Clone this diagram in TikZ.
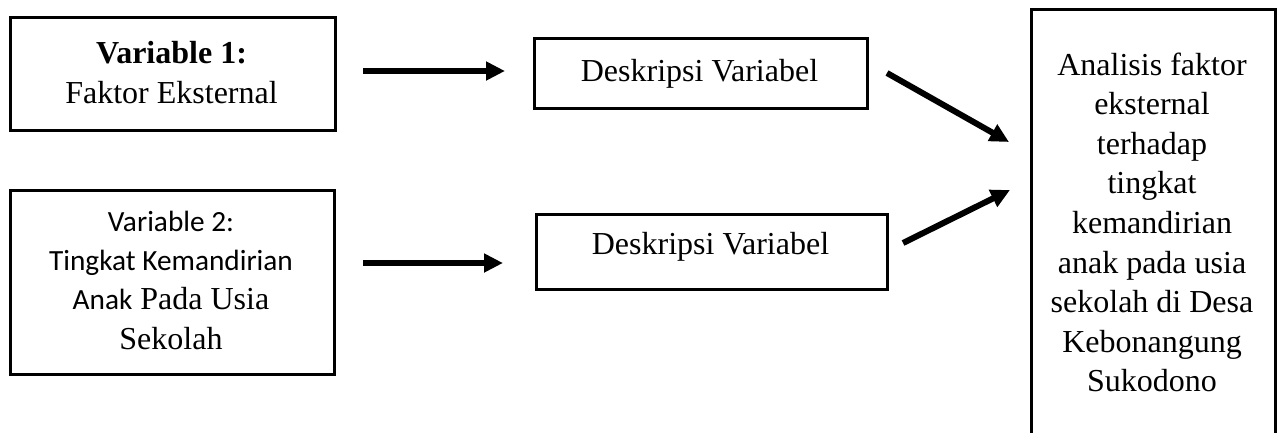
\documentclass[tikz,border=0pt]{standalone}
\usepackage{fontspec}
\setmainfont{Liberation Serif}
\newfontfamily\calfont{Carlito}
\usetikzlibrary{arrows.meta}
\begin{document}
\begin{tikzpicture}[x=1pt,y=-1pt,
  box/.style={draw, line width=2.5pt, inner sep=0pt},
  arr/.style={line width=6pt, -{Triangle[length=19pt,width=18pt]}},
  txt/.style={anchor=base, inner sep=0pt, font=\fontsize{32}{39.6}\selectfont},
  ctxt/.style={anchor=base, inner sep=0pt, font=\calfont\fontsize{29.3}{36}\selectfont}]
\useasboundingbox (0,0) rectangle (1282,432);
% boxes
\node[box, minimum width=325pt, minimum height=113pt, anchor=north west] (b1) at (9,16) {};
\node[box, minimum width=324pt, minimum height=184pt, anchor=north west] (b2) at (9,189) {};
\node[box, minimum width=333pt, minimum height=70pt, anchor=north west] (d1) at (533,37) {};
\node[box, minimum width=351pt, minimum height=75pt, anchor=north west] (d2) at (535,213) {};
\node[box, minimum width=244pt, minimum height=440pt, anchor=north west] (r) at (1030,8) {};
% box 1 text
\node[txt, font=\fontsize{32}{39.6}\selectfont\bfseries] (t11) at (171.5,63) {Variable 1:};
\node[txt] (t12) at (171.5,103) {Faktor Eksternal};
% box 2 text
\node[ctxt] (t21) at (171,231) {Variable 2:};
\node[ctxt] (t22) at (171,270) {Tingkat Kemandirian};
\node[txt] (t23) at (171,309) {{\calfont\fontsize{29.3}{36}\selectfont Anak} Pada Usia};
\node[txt] (t24) at (171,349) {Sekolah};
% descriptions
\node[txt] (td1) at (699.5,81) {Deskripsi Variabel};
\node[txt] (td2) at (710.5,254) {Deskripsi Variabel};
% right box text
\foreach \t [count=\i from 0] in {Analisis faktor,eksternal,terhadap,tingkat,kemandirian,anak pada usia,sekolah di Desa,Kebonangung,Sukodono}
  \node[txt] (tr\i) at (1152,75+39.6*\i) {\t};
% arrows
\coordinate (a1s) at (363,71);
\coordinate (a1e) at (505,71);
\coordinate (a2s) at (363,263);
\coordinate (a2e) at (503,263);
\coordinate (c1s) at (887,73);
\coordinate (c1e) at (1009,142);
\coordinate (c2s) at (903,243);
\coordinate (c2e) at (1010,190);
\draw[arr] (a1s) -- (a1e);
\draw[arr] (a2s) -- (a2e);
\draw[arr] (c1s) -- (c1e);
\draw[arr] (c2s) -- (c2e);
\end{tikzpicture}
\end{document}
